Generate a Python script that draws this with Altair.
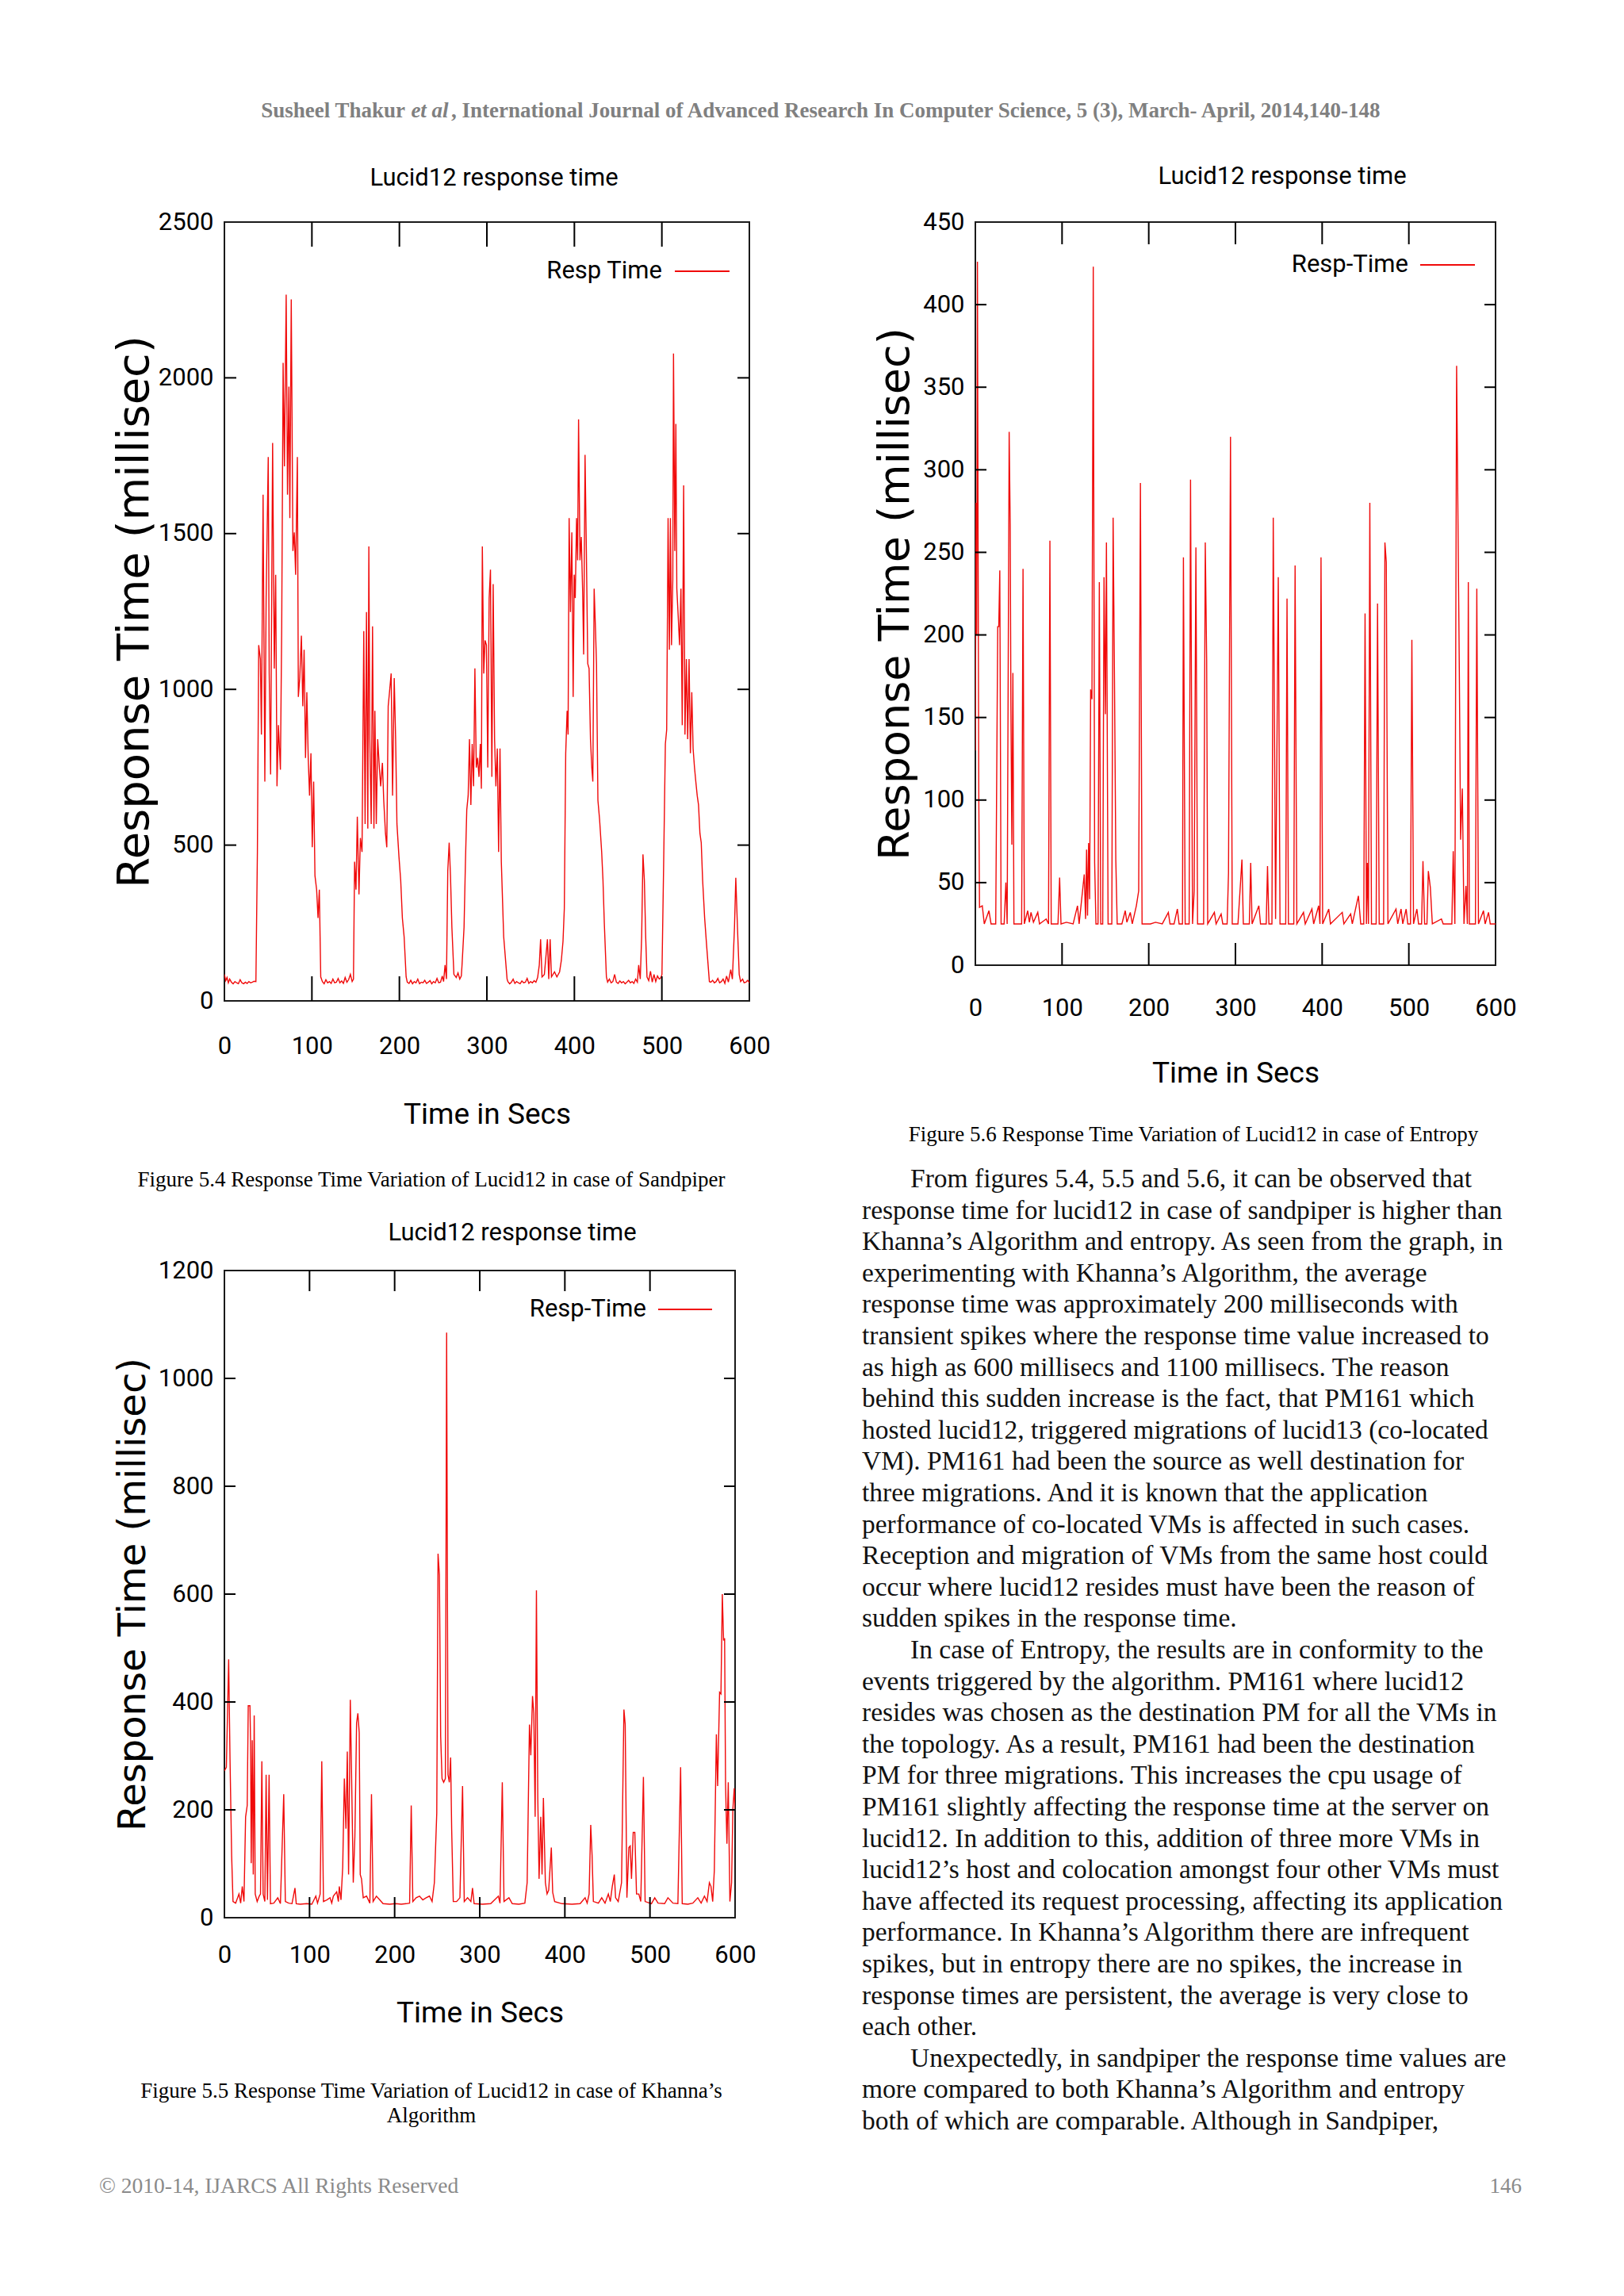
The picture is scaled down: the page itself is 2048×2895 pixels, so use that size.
import altair as alt
import pandas as pd

# ---------------- data ----------------
X_TICKS = [0, 100, 200, 300, 400, 500, 600]
X_INNER = [100, 200, 300, 400, 500]

SANDPIPER_Y_TICKS = [0, 500, 1000, 1500, 2000, 2500]
ENTROPY_Y_TICKS = [0, 50, 100, 150, 200, 250, 300, 350, 400, 450]
KHANNA_Y_TICKS = [0, 200, 400, 600, 800, 1000, 1200]

# Figure 5.4 - Sandpiper (time s, response ms)
SANDPIPER = [
    (0, 85), (1.5, 65), (3, 75), (4.5, 58), (6, 70), (8, 60), (10, 55), (12, 62), (14, 58), (16, 55),
    (18, 68), (20, 58), (22, 55), (24, 60), (26, 56), (28, 62), (30, 58), (32, 60), (34, 63), (36, 62),
    (37.7, 478), (39.2, 1142), (41.1, 1097), (42.3, 855), (44.2, 1625), (46.2, 704), (47.7, 1293),
    (50.1, 1746), (51.2, 1051), (52.8, 727), (55.1, 1791), (57.0, 1067), (58.6, 1368), (60.1, 689),
    (61.7, 885), (64.0, 742), (65.5, 1202), (67.1, 2048), (68.6, 1716), (70.6, 2267), (72.1, 1625),
    (73.7, 1972), (74.8, 1550), (76.4, 2252), (78.3, 1444), (79.9, 1504), (81.4, 1368), (83.4, 1746),
    (84.5, 976), (86.1, 1036), (88.0, 1172), (89.6, 946), (91.1, 1127), (92.7, 780), (94.2, 991),
    (95.8, 780), (97.3, 659), (98.9, 795), (100.4, 493), (102.0, 704), (103.5, 402), (105.4, 357),
    (107.0, 266), (108.5, 357), (110.1, 77),
    (112, 62), (114, 55), (116, 68), (118, 58), (120, 62), (122, 56), (124, 70), (126, 58), (128, 60),
    (130, 72), (132, 58), (134, 64), (136, 56), (138, 75), (140, 60), (142, 68), (144, 85), (146, 62),
    (147.5, 70),
    (148.8, 447), (150.4, 357), (151.9, 591), (153.8, 342), (155.4, 523), (157.3, 478), (159.3, 1187),
    (160.8, 568), (162.4, 1248), (163.9, 553), (165.1, 1459), (166.2, 840), (167.8, 568), (169.3, 1202),
    (170.9, 553), (172.0, 931), (173.6, 568), (175.2, 840), (177.1, 749), (178.6, 689), (180.6, 764),
    (182.1, 644), (184.1, 538), (185.6, 493), (187.2, 946), (188.7, 991), (190.6, 1051), (192.2, 659),
    (194.1, 1036), (195.7, 840), (197.2, 568), (199.5, 463), (201.5, 387), (203.4, 266), (205.4, 206),
    (207.7, 77),
    (209, 60), (211, 56), (213, 66), (215, 55), (217, 62), (219, 58), (221, 70), (223, 55), (225, 60),
    (227, 58), (229, 66), (231, 56), (233, 60), (235, 65), (237, 55), (239, 62), (241, 58), (243, 72),
    (245, 58), (247, 60), (249, 80), (250.5, 62),
    (252.2, 115), (253.8, 70), (255.3, 417), (256.9, 508), (258.4, 402), (260.0, 236), (262.3, 85),
    (265, 75), (267, 90), (269, 70), (270.8, 80),
    (271.6, 115), (273.9, 236), (275.5, 447), (277.0, 613), (278.6, 659), (280.1, 840), (281.7, 629),
    (283.2, 825), (284.8, 689), (286.3, 1067), (287.9, 749), (289.4, 780), (291.0, 719), (292.5, 825),
    (293.7, 681), (294.8, 1459), (296.4, 1051), (297.9, 1157), (299.5, 1142), (301.0, 749), (302.6, 1293),
    (304.1, 1384), (305.7, 719), (307.2, 1338), (308.8, 840), (310.3, 689), (311.9, 810), (313.4, 478),
    (315.0, 810), (316.5, 447), (319.2, 206), (323.1, 70),
    (324, 62), (326, 55), (328, 60), (330, 70), (332, 56), (334, 62), (336, 58), (338, 55), (340, 64),
    (342, 58), (344, 60), (346, 72), (348, 56), (350, 62), (352, 58), (354, 65), (356, 60), (358, 75),
    (359.9, 115), (361.4, 198), (363.0, 77), (365.7, 85), (369.2, 198), (370.7, 70), (372.3, 198),
    (373.8, 77), (377.3, 93), (380.0, 77), (383.1, 93), (385.1, 130), (387.0, 191), (388.5, 296),
    (390.1, 795), (391.7, 931), (392.8, 855), (394.0, 1550), (395.5, 1248), (397.1, 1504), (398.6, 976),
    (399.8, 1368), (401.0, 1293), (402.5, 1550), (403.7, 1414), (404.8, 1867), (406.4, 1414),
    (407.9, 1489), (409.5, 1308), (410.6, 1112), (412.2, 1753), (413.7, 1444), (415.3, 1082),
    (416.8, 1067), (418.4, 840), (419.9, 749), (421.1, 704), (422.6, 1323), (424.2, 1187), (425.3, 1082),
    (426.9, 644), (428.8, 583), (431.2, 478), (432.7, 387), (434.2, 251), (436.6, 77),
    (438, 60), (440, 70), (442, 58), (444, 62), (446, 85), (448, 60), (450, 56), (452, 64), (454, 58),
    (456, 62), (458, 55), (460, 60), (462, 66), (464, 58), (466, 62), (468, 56), (470, 70), (472, 60),
    (473.5, 115), (475.3, 70),
    (476.9, 206), (478.4, 470), (480.0, 387), (481.5, 206), (483.0, 77),
    (485, 65), (487, 95), (489, 60), (491, 85), (493, 62), (495, 80), (497, 70), (499, 75), (500.1, 85),
    (502.0, 432), (504.0, 825), (505.5, 870), (507.1, 1550), (508.6, 1127), (509.8, 1550), (511.0, 1142),
    (512.5, 1353), (513.3, 2078), (514.8, 1444), (516.0, 1852), (517.1, 1323), (518.7, 1233),
    (520.2, 1142), (521.8, 1323), (523.3, 885), (524.9, 1655), (526.4, 855), (528.0, 1097), (529.5, 840),
    (531.1, 1097), (532.6, 795), (534.2, 991), (535.7, 810), (537.3, 749), (538.8, 704), (540.4, 659),
    (541.9, 629), (543.5, 538), (545.0, 508), (546.6, 387), (548.9, 266), (551.2, 176), (554.3, 62),
    (556, 60), (558, 66), (560, 58), (562, 62), (564, 72), (566, 58), (568, 62), (570, 70), (572, 56),
    (574, 80), (576, 60), (578.7, 100), (580.6, 70),
    (583.0, 236), (584.5, 395), (586.4, 236), (588.4, 85), (590, 62), (592.3, 70), (594, 58),
    (596.1, 60), (598, 66), (600, 58),
]

# Figure 5.6 - Entropy
ENTROPY = [
    (0, 130), (0.8, 280), (1.6, 200), (2.4, 426), (3.2, 250), (4.0, 100), (4.8, 35), (8.0, 36),
    (10.3, 25), (15.7, 33), (18.1, 25), (23.5, 25), (25.8, 205), (27.0, 205), (28.2, 239), (29.7, 25),
    (33.2, 25), (35.2, 50), (36.7, 25), (39.0, 323), (40.2, 267), (41.0, 157), (42.1, 73), (43.3, 177),
    (44.5, 25), (50.7, 25), (53.4, 25), (55.0, 240), (56.5, 25), (60.4, 33), (62.3, 26), (64.2, 32),
    (67.0, 26), (72.0, 32), (74.0, 25), (81.7, 28), (84.4, 25), (86.0, 257), (87.5, 25), (95.3, 25),
    (97.2, 53), (98.8, 25), (105.0, 26), (112.8, 25), (117.8, 36), (119.7, 25), (125.6, 55), (127.1, 28),
    (128.3, 70), (129.4, 30), (130.6, 74), (131.8, 40), (133.0, 167), (134.5, 161), (136.0, 423),
    (137.6, 62), (139.1, 25), (141.5, 25), (143.0, 232), (144.6, 25), (146.9, 25), (148.4, 235),
    (150.0, 152), (151.2, 256), (153.1, 25), (157.4, 25), (158.9, 271), (160.5, 171), (162.0, 64),
    (163.6, 25), (169.0, 25), (172.9, 33), (174.8, 26), (178.7, 32), (181.0, 25), (185.7, 36),
    (188.4, 45), (190.4, 292), (192.3, 25), (202.0, 25), (207.8, 26), (215.6, 25), (222.6, 32),
    (224.5, 25), (229.2, 25), (233.0, 34), (235.0, 25), (238.9, 25), (240.0, 247), (242.0, 25),
    (246.6, 25), (248.2, 294), (250.5, 25), (252.4, 45), (254.4, 253), (256.3, 25), (263.3, 25),
    (265.2, 256), (266.8, 185), (268.0, 25), (275.7, 32), (277.7, 25), (283.5, 31), (285.4, 25),
    (290.4, 25), (292.0, 56), (294.3, 320), (296.3, 25), (302.9, 25), (307.5, 64), (309.1, 25),
    (316.0, 25), (317.6, 62), (319.2, 25), (327.0, 36), (328.9, 25), (335.5, 25), (337.0, 60),
    (338.6, 25), (342.1, 25), (343.6, 271), (346.3, 28), (349.4, 235), (351.4, 25), (358.0, 25),
    (359.5, 222), (361.1, 25), (367.3, 25), (368.8, 242), (370.8, 25), (378.5, 32), (380.5, 25),
    (388.2, 34), (390.2, 25), (396.0, 36), (397.5, 25), (398.7, 247), (400.6, 25), (407.6, 34),
    (409.6, 25), (423.2, 32), (425.1, 25), (432.9, 31), (434.8, 25), (441.8, 42), (444.5, 25),
    (448.0, 25), (449.5, 213), (451.1, 25), (452.2, 62), (453.4, 25), (455.0, 280), (456.9, 25),
    (462.3, 25), (463.9, 219), (465.8, 25), (470.9, 25), (472.4, 256), (474.0, 244), (474.8, 143),
    (475.9, 25), (485.2, 34), (487.2, 25), (491.0, 34), (493.0, 25), (496.9, 34), (498.8, 25),
    (501.9, 25), (503.5, 197), (505.4, 25), (509.3, 34), (511.2, 25), (514.7, 25), (516.3, 63),
    (518.2, 25), (520.9, 25), (522.5, 57), (524.8, 47), (527.1, 25), (537.6, 28), (539.6, 25),
    (549.6, 25), (551.2, 69), (553.1, 25), (555.1, 363), (558.2, 180), (559.7, 76), (561.7, 107),
    (563.6, 25), (565.9, 48), (567.5, 25), (568.6, 232), (569.8, 25), (576.8, 25), (578.4, 228),
    (580.3, 25), (586.1, 33), (588.0, 25), (591.9, 32), (593.9, 25), (600, 25),
]

# Figure 5.5 - Khanna's Algorithm
KHANNA = [
    (0, 272), (2.3, 279), (5.0, 479), (6.6, 293), (8.5, 115), (10.1, 30), (13.2, 27), (17.1, 44),
    (19.1, 27), (21.0, 58), (23.0, 30), (24.9, 187), (26.8, 208), (28.0, 393), (30.0, 393), (30.7, 329),
    (31.5, 101), (32.7, 329), (33.9, 80), (35.0, 375), (36.2, 44), (38.5, 30), (40.9, 40), (42.4, 44),
    (44.0, 290), (45.5, 44), (47.5, 30), (49.0, 265), (50.6, 33), (52.5, 265), (54.1, 26), (58.0, 27),
    (62.7, 37), (65.8, 26), (69.7, 229), (71.6, 30), (75.5, 27), (79.4, 26), (82.9, 55), (84.4, 26),
    (89.1, 25), (96.9, 26), (102.7, 25), (107.4, 40), (109.4, 27), (112.5, 44), (114.4, 290),
    (116.4, 30), (120.3, 33), (124.1, 37), (126.1, 27), (128.0, 40), (131.9, 48), (133.9, 30),
    (135.0, 58), (137.0, 33), (139.0, 94), (140.9, 258), (142.8, 165), (144.4, 308), (145.9, 80),
    (147.9, 404), (149.4, 265), (151.4, 65), (153.3, 151), (155.3, 361), (156.8, 379), (158.4, 343),
    (159.6, 80), (161.1, 72), (163.1, 37), (167.0, 40), (170.9, 27), (172.8, 229), (174.7, 30),
    (178.6, 40), (182.5, 33), (186.4, 26), (194.2, 25), (201.2, 26), (207.8, 25), (213.7, 26),
    (217.6, 27), (219.5, 208), (221.4, 30), (225.3, 37), (229.2, 40), (233.1, 33), (237.0, 37),
    (240.9, 40), (244.0, 30), (246.7, 65), (249.5, 194), (251.0, 675), (252.6, 636), (254.1, 336),
    (255.7, 258), (257.6, 251), (259.6, 258), (261.1, 1085), (262.7, 265), (264.3, 251), (265.8, 297),
    (267.0, 165), (268.9, 30), (272.8, 30), (276.7, 37), (279.8, 244), (281.8, 30), (285.7, 37),
    (289.6, 30), (291.5, 55), (293.4, 26), (303.2, 25), (312.9, 26), (321.9, 40), (323.8, 27),
    (326.5, 251), (328.5, 30), (334.3, 37), (338.2, 26), (346.0, 25), (353.0, 27), (355.7, 65),
    (358.4, 358), (360.0, 301), (362.0, 411), (363.5, 379), (365.1, 187), (366.6, 607), (368.2, 222),
    (369.7, 72), (371.7, 187), (373.2, 80), (374.8, 222), (377.1, 65), (379.1, 44), (381.0, 51),
    (384.1, 130), (385.7, 47), (388.0, 30), (396.6, 26), (408.3, 25), (418.0, 26), (423.8, 37),
    (426.2, 27), (428.5, 44), (430.4, 172), (432.0, 115), (433.5, 30), (439.4, 27), (443.3, 37),
    (447.2, 27), (451.1, 44), (453.4, 30), (455.7, 58), (458.1, 80), (459.6, 37), (462.7, 30),
    (466.6, 65), (469.4, 386), (470.9, 358), (472.9, 37), (475.2, 130), (476.8, 133), (478.3, 72),
    (480.3, 158), (482.2, 158), (484.2, 44), (486.9, 44), (489.2, 30), (492.3, 261), (494.3, 30),
    (501.7, 26), (505.6, 37), (509.5, 27), (517.2, 26), (521.1, 37), (527.0, 27), (532.8, 26),
    (536.0, 279), (537.9, 26), (544.5, 25), (550.3, 27), (556.2, 37), (560.1, 27), (564.0, 40),
    (567.1, 30), (569.8, 65), (571.7, 58), (573.7, 30), (575.6, 87), (578.0, 340), (579.5, 244),
    (581.8, 418), (583.4, 415), (585.0, 600), (586.5, 514), (587.7, 518), (588.8, 247), (590.4, 137),
    (592.0, 251), (593.9, 30), (595.9, 65), (597.4, 201), (599.0, 240), (600, 200),
]

# ---------------- text ----------------
HEADER_A = "Susheel Thakur"
HEADER_B = "et al"
HEADER_C = ", International Journal of Advanced Research In Computer Science, 5 (3), March- April, 2014,140-148"
FOOTER_L = "\u00a9 2010-14, IJARCS All Rights Reserved"
FOOTER_R = "146"
PLOT_TITLE = "Lucid12 response time"
X_TITLE = "Time in Secs"
Y_TITLE = "Response Time (millisec)"
CAP_54 = "Figure 5.4 Response Time Variation of Lucid12 in case of Sandpiper"
CAP_56 = "Figure 5.6 Response Time Variation of Lucid12 in case of Entropy"
CAP_55_A = "Figure 5.5 Response Time Variation of Lucid12 in case of Khanna\u2019s"
CAP_55_B = "Algorithm"

PARAGRAPH_LINES = [
    "From figures 5.4, 5.5 and 5.6, it can be observed that",
    "response time for lucid12 in case of sandpiper is higher than",
    "Khanna\u2019s Algorithm and entropy. As seen from the graph, in",
    "experimenting with Khanna\u2019s Algorithm, the average",
    "response time was approximately 200 milliseconds with",
    "transient spikes where the response time value increased to",
    "as high as 600 millisecs and 1100 millisecs. The reason",
    "behind this sudden increase is the fact, that PM161 which",
    "hosted lucid12, triggered migrations of lucid13 (co-located",
    "VM). PM161 had been the source as well destination for",
    "three migrations. And it is known that the application",
    "performance of co-located VMs is affected in such cases.",
    "Reception and migration of VMs from the same host could",
    "occur where lucid12 resides must have been the reason of",
    "sudden spikes in the response time.",
    "In case of Entropy, the results are in conformity to the",
    "events triggered by the algorithm. PM161 where lucid12",
    "resides was chosen as the destination PM for all the VMs in",
    "the topology. As a result, PM161 had been the destination",
    "PM for three migrations. This increases the cpu usage of",
    "PM161 slightly affecting the response time at the server on",
    "lucid12. In addition to this, addition of three more VMs in",
    "lucid12\u2019s host and colocation amongst four other VMs must",
    "have affected its request processing, affecting its application",
    "performance. In Khanna\u2019s Algorithm there are infrequent",
    "spikes, but in entropy there are no spikes, the increase in",
    "response times are persistent, the average is very close to",
    "each other.",
    "Unexpectedly, in sandpiper the response time values are",
    "more compared to both Khanna\u2019s Algorithm and entropy",
    "both of which are comparable. Although in Sandpiper,",
]
INDENTED_LINES = [0, 15, 28]

# ---------------- style ----------------
RED = "#f00a0a"
SANS = "Roboto, Lato, sans-serif"
WIDE = "DejaVu Sans, Verdana, sans-serif"
SERIF = "Liberation Serif, Times New Roman, serif"


def txt(s, x, y, size, font=SANS, align="center", color="#000", weight="normal", style="normal", baseline="middle"):
    return alt.Chart(pd.DataFrame({"s": [s]})).mark_text(
        font=font, fontSize=size, align=align, baseline=baseline, color=color,
        fontWeight=weight, fontStyle=style,
    ).encode(text="s:N", x=alt.value(x), y=alt.value(y))


def panel(series, ymax, yticks, lay, legend_label, extra):
    w, h = lay["w"], lay["h"]
    xs = alt.Scale(domain=[0, 600], nice=False, zero=False)
    ys = alt.Scale(domain=[0, ymax], nice=False, zero=False)
    xaxis = alt.Axis(
        values=X_TICKS, title=X_TITLE, format="d", grid=False, domain=False, ticks=False, tickSize=0,
        labelFont=SANS, labelFontSize=31, labelColor="#000", labelPadding=lay["xlab"],
        labelBaseline="middle", labelFlush=False, labelOverlap=False,
        titleFont=SANS, titleFontSize=37, titleFontWeight="normal", titleColor="#000",
        titleX=w / 2, titleY=lay["xtitle"], titleBaseline="middle", titleAlign="center")
    yaxis = alt.Axis(
        values=yticks, title=Y_TITLE, format="d", grid=False, domain=False, ticks=False, tickSize=0,
        labelFont=SANS, labelFontSize=31, labelColor="#000", labelPadding=14,
        labelFlush=False, labelOverlap=False,
        titleFont=WIDE, titleFontSize=lay["ytsize"], titleFontWeight="normal", titleColor="#000",
        titleX=lay["ytx"], titleY=h / 2, titleAngle=270, titleBaseline="middle", titleAlign="center")
    df = pd.DataFrame(series, columns=["t", "v"])
    line = alt.Chart(df).mark_line(color=RED, strokeWidth=1.4, clip=True).encode(
        x=alt.X("t:Q", scale=xs, axis=xaxis),
        y=alt.Y("v:Q", scale=ys, axis=yaxis),
    )
    xt = pd.DataFrame({"t": X_INNER})
    yt = pd.DataFrame({"v": yticks[1:-1]})
    lx, ly = lay["lx"], lay["ly"]
    tick_bottom = alt.Chart(xt).mark_rule(color="#000", strokeWidth=2).encode(
        x=alt.X("t:Q", scale=xs, axis=xaxis), y=alt.value(h), y2=alt.value(h - lx))
    tick_top = alt.Chart(xt).mark_rule(color="#000", strokeWidth=2).encode(
        x=alt.X("t:Q", scale=xs, axis=xaxis), y=alt.value(0), y2=alt.value(lx))
    tick_left = alt.Chart(yt).mark_rule(color="#000", strokeWidth=2).encode(
        y=alt.Y("v:Q", scale=ys, axis=yaxis), x=alt.value(0), x2=alt.value(ly))
    tick_right = alt.Chart(yt).mark_rule(color="#000", strokeWidth=2).encode(
        y=alt.Y("v:Q", scale=ys, axis=yaxis), x=alt.value(w), x2=alt.value(w - ly))
    leg_text = txt(legend_label, lay["leg_r"], lay["leg_y"], 31, align="right")
    leg_line = alt.Chart(pd.DataFrame({"s": [legend_label]})).mark_rule(color=RED, strokeWidth=2.2).encode(
        x=alt.value(lay["leg_x1"]), x2=alt.value(lay["leg_x2"]), y=alt.value(lay["leg_y"]))
    title = txt(PLOT_TITLE, lay["title_x"], lay["title_y"], 31)
    layers = [line, tick_bottom, tick_top, tick_left, tick_right, leg_text, leg_line, title] + extra
    return alt.layer(*layers).properties(
        width=w, height=h, view=alt.ViewBackground(stroke="#1a1a1a", strokeWidth=2))


LAY1 = dict(w=662, h=982, lx=31, ly=15, ytx=-114, ytsize=56, xlab=57, xtitle=143,
            title_x=340, title_y=-55, leg_r=552, leg_x1=568, leg_x2=637, leg_y=62)
LAY2 = dict(w=656, h=937, lx=28, ly=14, ytx=-101, ytsize=54, xlab=54, xtitle=136,
            title_x=387, title_y=-57, leg_r=546, leg_x1=561, leg_x2=630, leg_y=54)
LAY3 = dict(w=644, h=816, lx=26, ly=14, ytx=-115, ytsize=48, xlab=47, xtitle=120,
            title_x=363, title_y=-47, leg_r=532, leg_x1=547, leg_x2=615, leg_y=49)

anchor = alt.Chart(pd.DataFrame({"s": ["a"]})).mark_rule(opacity=0).encode(
    x=alt.value(-274), x2=alt.value(-274), y=alt.value(-271), y2=alt.value(-270))

extra1 = [
    txt(HEADER_A, 228, -140, 27, font=SERIF, align="right", color="#808080", weight="bold"),
    txt(HEADER_B, 259, -140, 27, font=SERIF, align="center", color="#808080", weight="bold", style="italic"),
    txt(HEADER_C, 286, -140, 27, font=SERIF, align="left", color="#808080", weight="bold"),
    txt(CAP_54, 261, 1208, 27, font=SERIF),
    anchor,
]
extra2 = [txt(CAP_56, 275, 1151, 27, font=SERIF)]
extra3 = [
    txt(CAP_55_A, 261, 1035, 27, font=SERIF),
    txt(CAP_55_B, 261, 1066, 27, font=SERIF),
    txt(FOOTER_L, -158, 1155, 27.5, font=SERIF, align="left", color="#8a8a8a"),
]

chart1 = panel(SANDPIPER, 2500, SANDPIPER_Y_TICKS, LAY1, "Resp Time", extra1)
chart2 = panel(ENTROPY, 450, ENTROPY_Y_TICKS, LAY2, "Resp-Time", extra2)
chart3 = panel(KHANNA, 1200, KHANNA_Y_TICKS, LAY3, "Resp-Time", extra3)

para_df = pd.DataFrame({
    "line": PARAGRAPH_LINES,
    "row": list(range(len(PARAGRAPH_LINES))),
    "indent": [1 if i in INDENTED_LINES else 0 for i in range(len(PARAGRAPH_LINES))],
})
para = alt.Chart(para_df).mark_text(
    font=SERIF, fontSize=33.5, align="left", baseline="alphabetic", color="#111"
).encode(
    x=alt.X("indent:Q", scale=alt.Scale(domain=[0, 1], range=[-143, -82], nice=False, zero=False), axis=None),
    y=alt.Y("row:Q", scale=alt.Scale(domain=[0, 30], range=[-105, 1083], nice=False, zero=False), axis=None),
    text="line:N",
)
page_no = txt(FOOTER_R, 689, 1155, 27, font=SERIF, align="right", color="#8a8a8a")
text_cell = alt.layer(para, page_no).properties(
    width=660, height=816, view=alt.ViewBackground(stroke="transparent"))

chart = alt.concat(
    chart1, chart2, chart3, text_cell,
    columns=2, spacing={"row": 340, "column": 285}, bounds="flush", align="each",
).properties(padding=0, background="white")

chart.save("out.html", embed_options={"renderer": "svg", "actions": False})
